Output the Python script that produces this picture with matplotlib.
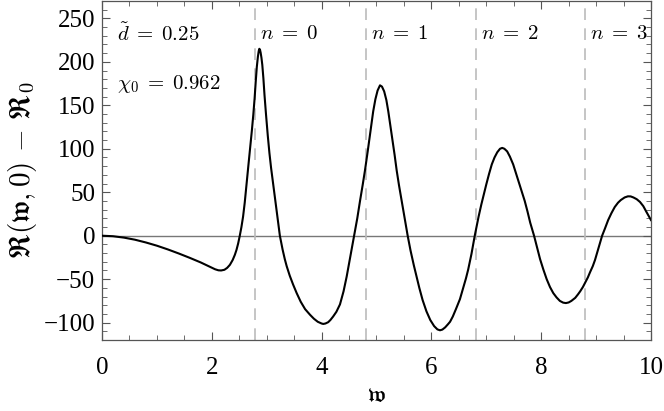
import numpy as np
import matplotlib
matplotlib.use('Agg')
import matplotlib.pyplot as plt
from matplotlib.ticker import MultipleLocator

plt.rcParams['font.family'] = 'Liberation Serif'
plt.rcParams['mathtext.fontset'] = 'cm'

# curve (w, R(w,0) - R0)
w = [0.0, 0.2, 0.4, 0.6, 0.8, 1.0, 1.2, 1.4, 1.6, 1.8, 1.9, 2.0, 2.06, 2.12, 2.17,
     2.23, 2.28, 2.33, 2.38, 2.42, 2.45, 2.48, 2.51, 2.54, 2.57, 2.60, 2.635, 2.67,
     2.70, 2.73, 2.756, 2.78, 2.80, 2.82, 2.84, 2.855, 2.866, 2.878, 2.89, 2.905,
     2.92, 2.94, 2.96, 2.987, 3.02, 3.05, 3.08, 3.11, 3.15, 3.19, 3.24, 3.29, 3.33,
     3.364, 3.42, 3.48, 3.546, 3.62, 3.70, 3.79, 3.86, 3.93, 4.0, 4.03, 4.07, 4.12,
     4.16, 4.21, 4.27, 4.335, 4.40, 4.457, 4.52, 4.59, 4.65, 4.70, 4.75, 4.79, 4.84,
     4.89, 4.94, 4.98, 5.02, 5.064, 5.10, 5.14, 5.18, 5.215, 5.25, 5.29, 5.33, 5.368,
     5.41, 5.459, 5.52, 5.568, 5.62, 5.68, 5.73, 5.78, 5.84, 5.91, 5.98, 6.05, 6.11,
     6.157, 6.20, 6.25, 6.30, 6.34, 6.39, 6.45, 6.52, 6.58, 6.63, 6.67, 6.73, 6.79,
     6.86, 6.91, 6.945, 7.0, 7.05, 7.1, 7.15, 7.2, 7.25, 7.29, 7.33, 7.38, 7.43, 7.49,
     7.55, 7.6, 7.65, 7.70, 7.75, 7.80, 7.87, 7.93, 7.98, 8.04, 8.10, 8.16, 8.22,
     8.28, 8.34, 8.40, 8.45, 8.50, 8.55, 8.62, 8.67, 8.71, 8.76, 8.80, 8.85, 8.89,
     8.94, 8.98, 9.05, 9.11, 9.16, 9.22, 9.28, 9.34, 9.40, 9.45, 9.52, 9.58, 9.63,
     9.68, 9.74, 9.80, 9.86, 9.92, 10.0]
R = [0, -0.6, -2.2, -4.6, -7.8, -11.5, -15.8, -20.5, -25.5, -30.8, -33.8, -36.8, -38.6, -39.8, -40,
     -39.2, -37, -33.5, -28, -22, -16.3, -9, 0, 10, 22, 38, 61, 83,
     102, 121, 139, 158, 177, 194, 206, 212.5, 215, 214, 210.5, 204.5,
     196.5, 181, 162, 140, 115, 95, 78, 63.5, 45, 25, 0, -16, -27,
     -35, -46, -56, -66, -76, -84.5, -91, -95.5, -99, -101, -101.5, -101, -99.5,
     -97, -93, -87.5, -79, -64, -47, -25, 0, 20, 40, 59, 75, 97,
     120, 143, 157, 167, 173, 171.5, 166, 156, 143, 128, 111, 93, 75,
     58, 40, 17, 0, -17, -34, -47, -60, -74, -87, -97, -104, -107.8,
     -108.8, -108, -105.5, -102, -99, -93, -84, -73, -60, -49, -39, -21, 0,
     22, 36, 45, 59, 71, 82, 90, 96, 100, 101, 100, 97, 91, 82,
     70, 60, 50, 40, 28, 15, 0, -15, -27, -39, -50, -59, -66,
     -71, -75, -77, -77.5, -76.8, -75, -71.5, -67.5, -64, -59, -54, -48, -42,
     -35, -28, -13, 0, 8, 18, 26, 33, 38, 41, 44, 45.3, 45.2,
     44, 42, 38.8, 34, 27, 18]

# resonance positions
n_lines = [2.79, 4.81, 6.81, 8.80]
n_labels = [r'$n\;=\;0$', r'$n\;=\;1$', r'$n\;=\;2$', r'$n\;=\;3$']

d_tilde = 0.25
chi0 = 0.962

fig = plt.figure(figsize=(6.64, 4.11), dpi=100)
ax = fig.add_axes([0.1536, 0.1727, 0.8268, 0.8249])

ax.axhline(0, color='#777777', lw=1.0, zorder=1)
for xv in n_lines:
    ax.axvline(xv, color='#bbbbbb', lw=1.2, ls=(0, (7, 5)), zorder=1)

ax.plot(w, R, color='black', lw=1.5, zorder=3, solid_joinstyle='round')

for xv, lab in zip(n_lines, n_labels):
    ax.text(xv + 0.09, 231, lab, fontsize=15, va='center', ha='left')

ax.text(0.27, 231, r'$\tilde{d}\;=\;%.2f$' % d_tilde, fontsize=15, va='center', ha='left')
ax.text(0.27, 174, r'$\chi_0\;=\;%.3f$' % chi0, fontsize=15, va='center', ha='left')

ax.set_xlim(0, 10)
ax.set_ylim(-120, 270)
ax.xaxis.set_major_locator(MultipleLocator(2))
ax.xaxis.set_minor_locator(MultipleLocator(0.5))
ax.yaxis.set_major_locator(MultipleLocator(50))
ax.yaxis.set_minor_locator(MultipleLocator(10))
ax.tick_params(which='both', direction='in', top=True, right=True, color='#555555',
               labelsize=18)
ax.tick_params(axis='x', pad=12)
ax.tick_params(axis='y', pad=5)
ax.tick_params(which='major', length=6, width=0.8)
ax.tick_params(which='minor', length=3.5, width=0.6)
for sp in ax.spines.values():
    sp.set_color('#555555')
    sp.set_linewidth(0.9)

ax.set_xlabel(r'$\mathfrak{w}$', fontsize=17, labelpad=5)
ax.set_ylabel(r'$\mathfrak{R}(\mathfrak{w},0)\,-\,\mathfrak{R}_0$', fontsize=21, labelpad=3)

fig.savefig('out.png', dpi=100)
